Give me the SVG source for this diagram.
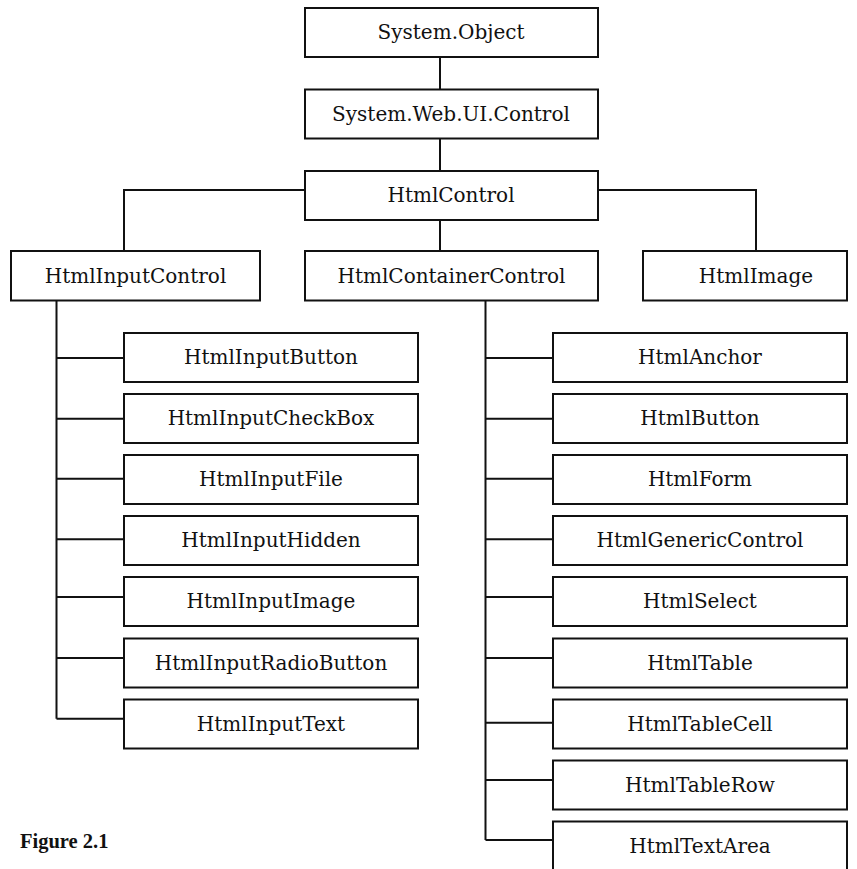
<svg xmlns="http://www.w3.org/2000/svg" width="857" height="869" viewBox="0 0 857 869">
  <style>
    .box { fill: #ffffff; stroke: #111111; stroke-width: 2; }
    .lbl { font-family: "DejaVu Serif", "Liberation Serif", serif; font-size: 20px; fill: #111111; text-anchor: middle; }
    .wire { fill: none; stroke: #111111; stroke-width: 2; }
    .cap { font-family: "Liberation Serif", "DejaVu Serif", serif; font-size: 20.5px; font-weight: bold; fill: #111111; }
  </style>
  <rect width="857" height="869" fill="#ffffff"/>

  <!-- inheritance links -->
  <g id="connectors">
    <path class="wire" d="M440 57 V89 M440 139 V171 M440 220 V251"/>
    <path class="wire" d="M305 190 H124 V251 M598 190 H756 V251"/>
    <!-- HtmlInputControl subtree -->
    <path class="wire" d="M56.5 301 V718.7
      M56.5 358 H124 M56.5 418.7 H124 M56.5 478.7 H124 M56.5 539.3 H124
      M56.5 597 H124 M56.5 658 H124 M56.5 718.7 H124"/>
    <!-- HtmlContainerControl subtree -->
    <path class="wire" d="M485.5 301 V840
      M485.5 358 H553 M485.5 418.7 H553 M485.5 478.7 H553 M485.5 539.3 H553
      M485.5 597 H553 M485.5 658 H553 M485.5 722.7 H553 M485.5 780 H553 M485.5 840 H553"/>
  </g>

  <!-- top chain -->
  <g id="system-object"><rect class="box" x="305" y="8" width="293" height="49"/><text class="lbl" x="451" y="39">System.Object</text></g>
  <g id="system-web-ui-control"><rect class="box" x="305" y="89.5" width="293" height="49"/><text class="lbl" x="451" y="120.5">System.Web.UI.Control</text></g>
  <g id="html-control"><rect class="box" x="305" y="171" width="293" height="49"/><text class="lbl" x="451" y="202">HtmlControl</text></g>

  <!-- second level -->
  <g id="html-input-control"><rect class="box" x="11" y="251" width="249" height="49.5"/><text class="lbl" x="135.5" y="283">HtmlInputControl</text></g>
  <g id="html-container-control"><rect class="box" x="305" y="251" width="293" height="49.5"/><text class="lbl" x="451.5" y="283">HtmlContainerControl</text></g>
  <g id="html-image"><rect class="box" x="643" y="251" width="204" height="49.5"/><text class="lbl" x="756" y="283">HtmlImage</text></g>

  <!-- HtmlInputControl children -->
  <g id="html-input-button"><rect class="box" x="124" y="333" width="294" height="49"/><text class="lbl" x="271" y="364">HtmlInputButton</text></g>
  <g id="html-input-checkbox"><rect class="box" x="124" y="394" width="294" height="49"/><text class="lbl" x="271" y="425">HtmlInputCheckBox</text></g>
  <g id="html-input-file"><rect class="box" x="124" y="455" width="294" height="49"/><text class="lbl" x="271" y="486">HtmlInputFile</text></g>
  <g id="html-input-hidden"><rect class="box" x="124" y="516" width="294" height="49"/><text class="lbl" x="271" y="547">HtmlInputHidden</text></g>
  <g id="html-input-image"><rect class="box" x="124" y="577" width="294" height="49"/><text class="lbl" x="271" y="608">HtmlInputImage</text></g>
  <g id="html-input-radiobutton"><rect class="box" x="124" y="638.5" width="294" height="49"/><text class="lbl" x="271" y="669.5">HtmlInputRadioButton</text></g>
  <g id="html-input-text"><rect class="box" x="124" y="699.5" width="294" height="49"/><text class="lbl" x="271" y="730.5">HtmlInputText</text></g>

  <!-- HtmlContainerControl children -->
  <g id="html-anchor"><rect class="box" x="553" y="333" width="294" height="49"/><text class="lbl" x="700" y="364">HtmlAnchor</text></g>
  <g id="html-button"><rect class="box" x="553" y="394" width="294" height="49"/><text class="lbl" x="700" y="425">HtmlButton</text></g>
  <g id="html-form"><rect class="box" x="553" y="455" width="294" height="49"/><text class="lbl" x="700" y="486">HtmlForm</text></g>
  <g id="html-generic-control"><rect class="box" x="553" y="516" width="294" height="49"/><text class="lbl" x="700" y="547">HtmlGenericControl</text></g>
  <g id="html-select"><rect class="box" x="553" y="577" width="294" height="49"/><text class="lbl" x="700" y="608">HtmlSelect</text></g>
  <g id="html-table"><rect class="box" x="553" y="638.5" width="294" height="49"/><text class="lbl" x="700" y="669.5">HtmlTable</text></g>
  <g id="html-table-cell"><rect class="box" x="553" y="699.5" width="294" height="49"/><text class="lbl" x="700" y="730.5">HtmlTableCell</text></g>
  <g id="html-table-row"><rect class="box" x="553" y="760.5" width="294" height="49"/><text class="lbl" x="700" y="791.5">HtmlTableRow</text></g>
  <g id="html-text-area"><rect class="box" x="553" y="821.5" width="294" height="49"/><text class="lbl" x="700" y="852.5">HtmlTextArea</text></g>

  <text class="cap" x="20" y="848">Figure 2.1</text>
</svg>
